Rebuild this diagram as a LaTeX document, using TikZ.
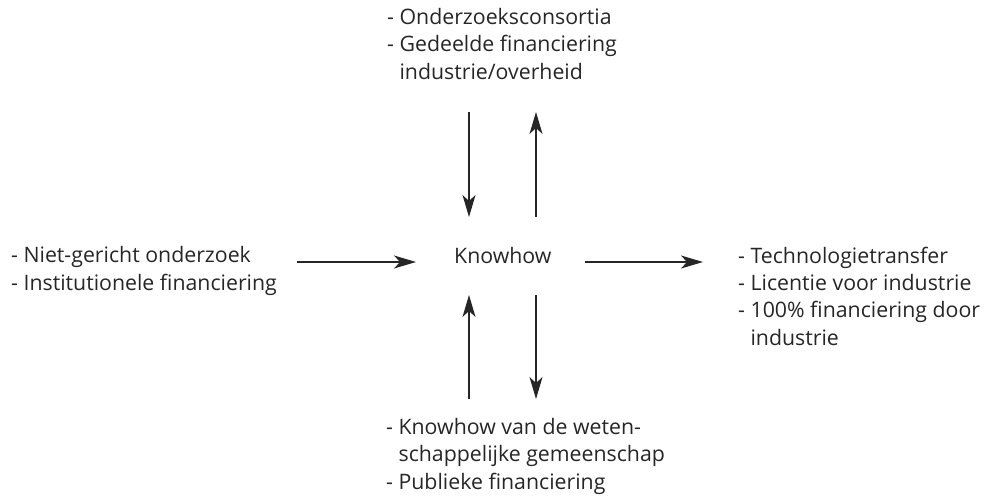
\documentclass[tikz,border=0pt]{standalone}
\usepackage{fontspec}
\setmainfont{Open Sans}
\usetikzlibrary{arrows.meta}
\tikzset{
  % multi-line blocks are placed by the baseline of their last line
  label text/.style={inner sep=0pt, anchor=base west, align=left,
    font=\fontsize{21.3}{27.3}\selectfont, text=black!85},
  flow/.style={line width=1.1pt, draw=black!85,
    -{Stealth[length=22pt, width=13pt, inset=6pt]}},
}
\newcommand{\cont}{\phantom{- }}
\begin{document}
\begin{tikzpicture}[x=1pt, y=-1pt]
  \useasboundingbox (0,0) rectangle (992,503);

  % the five text blocks
  \node[label text] (top) at (387,79)
    {- Onderzoeksconsortia\\- Gedeelde financiering\\\cont industrie/overheid};
  \node[label text] (left) at (11,290)
    {- Niet-gericht onderzoek\\- Institutionele financiering};
  \node[label text] (know) at (454,263) {Knowhow};
  \node[label text] (right) at (738,345)
    {- Technologietransfer\\- Licentie voor industrie\\- 100\% financiering door\\\cont industrie};
  \node[label text] (bottom) at (386,489)
    {- Knowhow van de weten-\\\cont schappelijke gemeenschap\\- Publieke financiering};

  % arrow end points
  \coordinate (td0) at (469,112); \coordinate (td1) at (469,217);
  \coordinate (tu0) at (536,217); \coordinate (tu1) at (536,112);
  \coordinate (l0) at (297,262);  \coordinate (l1) at (416,262);
  \coordinate (r0) at (585,262);  \coordinate (r1) at (703,262);
  \coordinate (bu0) at (469,399); \coordinate (bu1) at (469,295);
  \coordinate (bd0) at (536,295); \coordinate (bd1) at (536,399);

  % connectors
  \draw[flow] (td0) -- (td1);
  \draw[flow] (tu0) -- (tu1);
  \draw[flow] (l0) -- (l1);
  \draw[flow] (r0) -- (r1);
  \draw[flow] (bu0) -- (bu1);
  \draw[flow] (bd0) -- (bd1);
\end{tikzpicture}
\end{document}
